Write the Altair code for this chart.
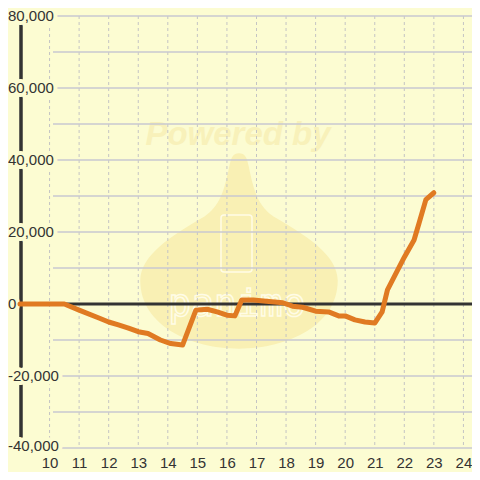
import altair as alt
import pandas as pd

# ---- data ----
hours = [9, 10.5, 11, 11.67, 12, 12.33, 12.67, 13, 13.33, 13.75, 14.1, 14.5,
         14.95, 15.33, 15.67, 16, 16.27, 16.5, 16.89, 17.33, 17.89, 18.22,
         18.56, 19, 19.44, 19.78, 20, 20.33, 20.67, 21, 21.25, 21.43, 22,
         22.33, 22.5, 22.73, 23]
values = [0, 0, -1700, -3900, -5000, -5800, -6700, -7700, -8200, -10000,
          -11000, -11400, -1700, -1450, -2200, -3100, -3300, 1100, 1100, 750,
          350, -600, -900, -2000, -2200, -3300, -3300, -4400, -5000, -5300,
          -2200, 3900, 13000, 17800, 22500, 29000, 30900]
x_ticks = [10, 11, 12, 13, 14, 15, 16, 17, 18, 19, 20, 21, 22, 23, 24]
y_label_values = [80000, 60000, 40000, 20000, 0, -20000, -40000]
y_label_texts = ["80,000", "60,000", "40,000", "20,000", "0", "-20,000", "-40,000"]
y_grid = [80000, 70000, 60000, 50000, 40000, 30000, 20000, 10000,
          -10000, -20000, -30000, -40000]
zero_line = [0]

BG = "#FCFCD2"
W, H = 452, 432

xs = alt.Scale(domain=[9, 24.29], nice=False, zero=False)
ys = alt.Scale(domain=[-40000, 80000], nice=False, zero=False)

x_axis = alt.Axis(values=x_ticks, title=None, grid=False, domain=False,
                  ticks=False, labelFontSize=15, labelFont="Liberation Sans",
                  labelColor="#333333", labelPadding=7, labelFlush=False,
                  labelOverlap=False, format="d")

line_df = pd.DataFrame({"h": hours, "v": values})
xt_df = pd.DataFrame({"h": x_ticks})
yl_df = pd.DataFrame({"v": y_label_values, "t": y_label_texts})
yg_df = pd.DataFrame({"v": y_grid})
z_df = pd.DataFrame({"v": zero_line})
one = pd.DataFrame({"a": [0]})

drop_path = ("M 0 -0.99 C 0.06 -0.99 0.08 -0.95 0.1 -0.85 "
             "C 0.15 -0.6 0.2 -0.45 0.35 -0.35 "
             "C 0.7 -0.15 1.0 0.05 1.0 0.3 "
             "C 1.0 0.75 0.5 0.99 0 0.99 "
             "C -0.5 0.99 -1.0 0.75 -1.0 0.3 "
             "C -1.0 0.05 -0.7 -0.15 -0.35 -0.35 "
             "C -0.2 -0.45 -0.15 -0.6 -0.1 -0.85 "
             "C -0.08 -0.95 -0.06 -0.99 0 -0.99 Z")

drop = alt.Chart(one).mark_point(shape=drop_path, size=39000, filled=True,
                                 fill="#F9F0B4", opacity=1, strokeWidth=0).encode(
    x=alt.value(219), y=alt.value(235))

powered = alt.Chart(one).mark_text(text="Powered by", fontSize=33, fontWeight="bold",
                                   fontStyle="italic", font="Liberation Sans",
                                   color="#F8F1BA", align="center", baseline="middle").encode(
    x=alt.value(218), y=alt.value(119))

phone = alt.Chart(one).mark_rect(fillOpacity=0, stroke="#FFFCE6", strokeWidth=1.5,
                                 cornerRadius=3).encode(
    x=alt.value(201), x2=alt.value(232), y=alt.value(199), y2=alt.value(256))

brand = alt.Chart(one).mark_text(text="panimo", fontSize=38, font="DejaVu Sans Mono",
                                 fill="#FFFCE6", fillOpacity=0, stroke="#FFFCE6",
                                 strokeWidth=1.5, align="center", baseline="middle").encode(
    x=alt.value(217), y=alt.value(289))

vgrid = alt.Chart(xt_df).mark_rule(color="#C4C4C4", strokeWidth=1, strokeDash=[3, 3]).encode(
    x=alt.X("h:Q", scale=xs, axis=x_axis), y=alt.value(0), y2=alt.value(H))

hgrid = alt.Chart(yg_df).mark_rule(color="#C8C8D0", strokeWidth=1.4).encode(
    y=alt.Y("v:Q", scale=ys, axis=None), x=alt.value(33), x2=alt.value(W))

yaxis_line = alt.Chart(one).mark_rule(color="#333333", strokeWidth=3.5).encode(
    x=alt.value(1), y=alt.value(0), y2=alt.value(H))


def ylabel_layers(filter_expr, dy):
    base = alt.Chart(yl_df).transform_filter(filter_expr)
    halo = base.mark_text(align="left", baseline="middle", fontSize=15, dy=dy,
                          font="Liberation Sans", fill=BG, stroke=BG,
                          strokeWidth=8, strokeJoin="round").encode(
        x=alt.value(-12), y=alt.Y("v:Q", scale=ys, axis=None), text="t:N")
    txt = base.mark_text(align="left", baseline="middle", fontSize=15, dy=dy,
                         font="Liberation Sans", color="#333333").encode(
        x=alt.value(-12), y=alt.Y("v:Q", scale=ys, axis=None), text="t:N")
    return halo, txt


halo_top, labels_top = ylabel_layers("datum.v > -30000", 0)
halo_bot, labels_bot = ylabel_layers("datum.v <= -30000", -2)

zero = alt.Chart(z_df).mark_rule(color="#333333", strokeWidth=3).encode(
    y=alt.Y("v:Q", scale=ys, axis=None), x=alt.value(0), x2=alt.value(W))

line = alt.Chart(line_df).mark_line(color="#E07A22", strokeWidth=5,
                                    strokeJoin="round", strokeCap="round").encode(
    x=alt.X("h:Q", scale=xs, axis=x_axis),
    y=alt.Y("v:Q", scale=ys, axis=None))

chart = alt.layer(drop, powered, phone, brand, vgrid, hgrid, yaxis_line,
                  halo_top, halo_bot, labels_top, labels_bot, zero, line).properties(
    width=W, height=H,
    autosize=alt.AutoSizeParams(type="none"),
    padding={"left": 12, "top": 8, "right": 0, "bottom": 24},
    background=BG,
).configure_view(fill=BG, strokeWidth=0)

chart.save("out.html", embed_options={"renderer": "svg", "actions": False})
